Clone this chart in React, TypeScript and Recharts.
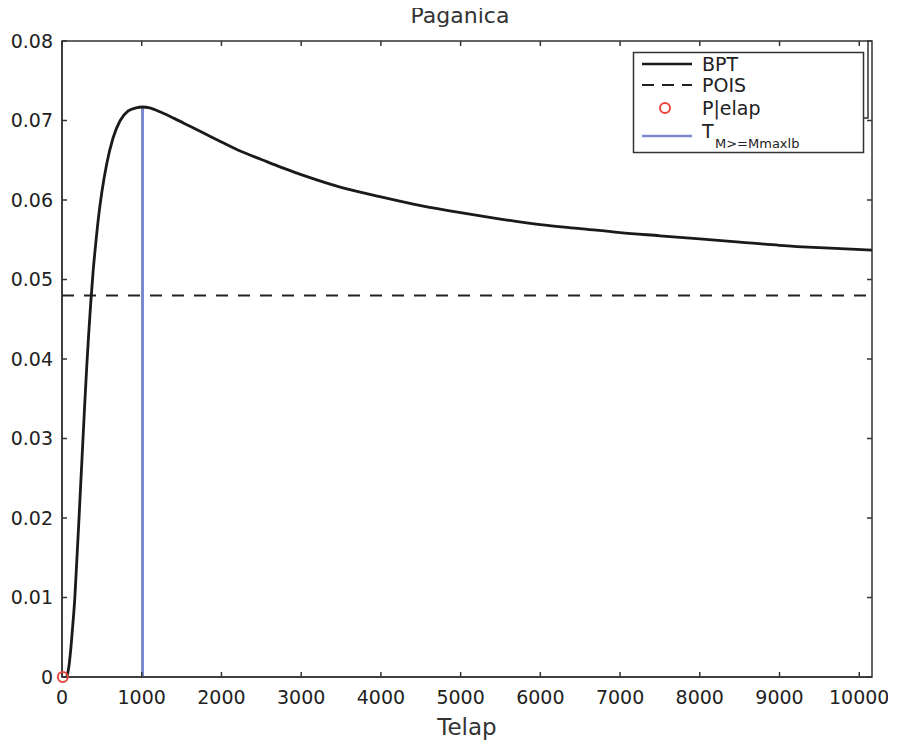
import React from 'react';
import { ComposedChart, Line, Scatter, XAxis, YAxis, Legend, Label, ReferenceLine, ReferenceArea } from 'recharts';

const bptTelap = [60, 85, 110, 135, 160, 185, 210, 235, 260, 285, 310, 335, 360, 390, 420, 460, 500, 560, 640, 730, 830, 930, 1010, 1100, 1250, 1400, 1600, 1800, 2000, 2250, 2500, 2750, 3000, 3500, 4000, 4500, 5000, 5500, 6000, 6500, 7000, 7500, 8000, 8500, 9000, 9500, 10160];
const bptValue = [0, 0.0012, 0.0035, 0.0065, 0.0098, 0.0145, 0.0193, 0.0243, 0.0293, 0.0343, 0.039, 0.0432, 0.047, 0.051, 0.0542, 0.058, 0.061, 0.0645, 0.0678, 0.07, 0.0712, 0.0716, 0.0717, 0.0716, 0.071, 0.0703, 0.0693, 0.0683, 0.0673, 0.0661, 0.0651, 0.0641, 0.0632, 0.0616, 0.0604, 0.0593, 0.0584, 0.0576, 0.0569, 0.0564, 0.0559, 0.0555, 0.0551, 0.0547, 0.0543, 0.054, 0.0537];
const poisTelap = [0, 10160];
const poisValue = [0.048, 0.048];
const pelapTelap = [10];
const pelapValue = [0];
const tmaxTelap = [1010, 1010];
const tmaxValue = [0, 0.0717];
const xTicks = [0, 1000, 2000, 3000, 4000, 5000, 6000, 7000, 8000, 9000, 10000];
const yTicks = [0, 0.01, 0.02, 0.03, 0.04, 0.05, 0.06, 0.07, 0.08];
const xDomain = [0, 10160];
const yDomain = [0, 0.08];
const titleText = 'Paganica';
const xLabel = 'Telap';

const zip = (xs: number[], ys: number[]) => xs.map((t, i) => ({ t, v: ys[i] }));
const bptData = zip(bptTelap, bptValue);
const poisData = zip(poisTelap, poisValue);
const pelapData = zip(pelapTelap, pelapValue);
const tmaxData = zip(tmaxTelap, tmaxValue);

const FONT = '"DejaVu Sans", sans-serif';
const TXT = '#222';
const AX = '#333';
const TICK_LEN = 5;

const TopTickShape = (p: any) => {
  const top = Math.min(p.y1, p.y2);
  return <line x1={p.x1} x2={p.x1} y1={top} y2={top + TICK_LEN} stroke={AX} strokeWidth={1.5} />;
};

const RightTickShape = (p: any) => {
  const right = Math.max(p.x1, p.x2);
  return <line x1={right} x2={right - TICK_LEN} y1={p.y1} y2={p.y1} stroke={AX} strokeWidth={1.5} />;
};

const LegendBox = () => (
  <svg width={240} height={114} style={{ display: 'block', overflow: 'visible' }}>
    <path d="M235,0 L235,77 L230,77" fill="none" stroke={AX} strokeWidth={1.5} />
    <rect x={0.5} y={11.5} width={230} height={100} fill="#fff" stroke={AX} strokeWidth={1.5} />
    <line x1={9} x2={59} y1={23} y2={23} stroke="#1a1a1a" strokeWidth={2.5} />
    <text x={69} y={23} dominantBaseline="central" fontFamily={FONT} fontSize={19} fill={TXT}>BPT</text>
    <line x1={9} x2={59} y1={44} y2={44} stroke="#222" strokeWidth={2} strokeDasharray="12 8" />
    <text x={69} y={44} dominantBaseline="central" fontFamily={FONT} fontSize={19} fill={TXT}>POIS</text>
    <circle cx={32} cy={67} r={5} fill="none" stroke="#e8453a" strokeWidth={2} />
    <text x={69} y={67} dominantBaseline="central" fontFamily={FONT} fontSize={19} fill={TXT}>P|elap</text>
    <line x1={9} x2={59} y1={95} y2={95} stroke="#7b8ad0" strokeWidth={2.5} />
    <text x={69} y={90} dominantBaseline="central" fontFamily={FONT} fontSize={19} fill={TXT}>T</text>
    <text x={82} y={102} dominantBaseline="central" fontFamily={FONT} fontSize={13} fill={TXT}>{'M>=Mmaxlb'}</text>
  </svg>
);

const RedCircle = (props: any) => {
  const { cx, cy } = props;
  return <circle cx={cx} cy={cy} r={5} fill="none" stroke="#e8453a" strokeWidth={2} />;
};

export default function App() {
  return (
    <div style={{ position: 'relative', width: 880, height: 735 }}>
      <ComposedChart width={880} height={735} margin={{ top: 33, right: 16, bottom: 4, left: 0 }}>
        <XAxis
          dataKey="t"
          type="number"
          domain={xDomain}
          ticks={xTicks}
          height={62}
          tickSize={-5}
          tickMargin={19}
          stroke={AX}
          strokeWidth={1.5}
          tick={{ fill: TXT, fontSize: 19, fontFamily: FONT }}
          interval={0}
        >
          <Label value={xLabel} position="insideBottom" offset={4} style={{ fill: '#333', fontSize: 23, fontFamily: FONT }} />
        </XAxis>
        <YAxis
          type="number"
          domain={yDomain}
          ticks={yTicks}
          width={54}
          tickSize={-5}
          tickMargin={14}
          stroke={AX}
          strokeWidth={1.5}
          interval={0}
          tickFormatter={(v: number) => (v === 0 ? '0' : v.toFixed(2))}
          tick={{ fill: TXT, fontSize: 19, fontFamily: FONT }}
        />
        <ReferenceArea x1={xDomain[0]} x2={xDomain[1]} y1={yDomain[0]} y2={yDomain[1]} fill="none" fillOpacity={0} stroke={AX} strokeWidth={1.5} strokeOpacity={1} />
        {xTicks.map((t) => (
          <ReferenceLine key={'xt' + t} x={t} shape={TopTickShape} />
        ))}
        {yTicks.map((v) => (
          <ReferenceLine key={'yt' + v} y={v} shape={RightTickShape} />
        ))}
        <Line data={poisData} dataKey="v" type="linear" stroke="#222" strokeWidth={2} strokeDasharray="12 10" dot={false} isAnimationActive={false} />
        <Line data={tmaxData} dataKey="v" type="linear" stroke="#7b8ad0" strokeWidth={3} dot={false} isAnimationActive={false} />
        <Line data={bptData} dataKey="v" type="monotone" stroke="#1a1a1a" strokeWidth={2.8} dot={false} isAnimationActive={false} />
        <Scatter data={pelapData} dataKey="v" shape={RedCircle} isAnimationActive={false} />
        <Legend
          layout="horizontal"
          verticalAlign="middle"
          align="center"
          content={() => <LegendBox />}
          wrapperStyle={{ position: 'absolute', left: 625, top: 33, width: 240, height: 114 }}
        />
      </ComposedChart>
      <div
        style={{
          position: 'absolute',
          zIndex: 5,
          top: -7,
          left: 0,
          width: 904,
          height: 30,
          lineHeight: '30px',
          textAlign: 'center',
          fontFamily: FONT,
          fontSize: 22,
          color: '#333',
          pointerEvents: 'none',
        }}
      >
        {titleText}
      </div>
    </div>
  );
}
